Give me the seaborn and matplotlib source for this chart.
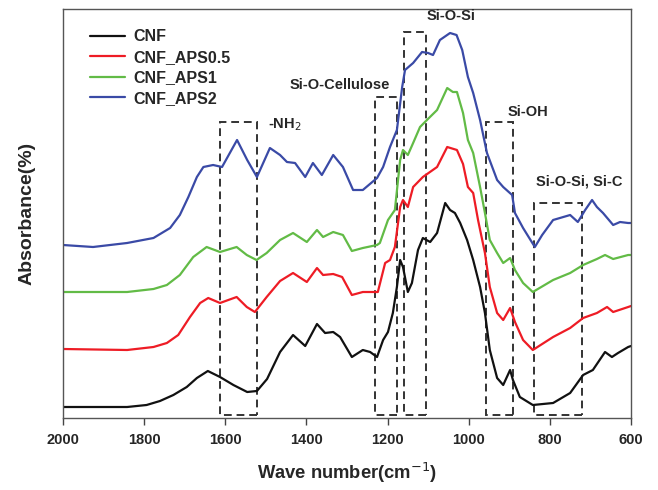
import numpy as np
import pandas as pd
import matplotlib
matplotlib.use("Agg")
import matplotlib.pyplot as plt
import seaborn as sns
from matplotlib.patches import Rectangle

# FTIR spectra (absorbance in arbitrary units, stacked)
cnf_wn = [2000, 1925, 1842, 1794, 1761, 1728, 1695, 1670, 1643, 1613, 1580, 1546, 1522,
          1497, 1465, 1433, 1403, 1374, 1354, 1334, 1317, 1288, 1261, 1243, 1226, 1211,
          1199, 1187, 1177, 1169, 1162, 1150, 1140, 1125, 1113, 1095, 1078, 1058, 1046,
          1034, 1021, 1004, 989, 972, 960, 948, 930, 915, 898, 891, 874, 842, 792, 750,
          718, 694, 664, 647, 632, 607, 600]
cnf_ab = [11, 11, 11, 13, 17, 23, 31, 40, 47, 41, 33, 26, 27,
          39, 66, 83, 72, 94, 85, 86, 81, 61, 68, 66, 61, 78,
          86, 105, 131, 158, 151, 126, 135, 168, 180, 176, 185, 215, 208,
          205, 195, 178, 158, 131, 105, 68, 40, 33, 48, 38, 21, 13, 15, 25,
          43, 48, 66, 61, 65, 71, 72]

aps05_wn = [2000, 1842, 1777, 1744, 1716, 1687, 1662, 1642, 1613, 1572, 1547, 1527, 1498,
            1465, 1433, 1399, 1374, 1359, 1334, 1312, 1288, 1261, 1224, 1206, 1194, 1182,
            1169, 1162, 1150, 1137, 1113, 1078, 1053, 1029, 1014, 1002, 989, 977, 960, 948,
            930, 915, 898, 886, 866, 842, 792, 750, 718, 684, 659, 644, 607, 600]
aps05_ab = [69, 68, 71, 75, 83, 101, 115, 120, 115, 121, 111, 106, 121,
            137, 145, 136, 150, 143, 144, 141, 123, 126, 126, 155, 158, 171,
            211, 218, 211, 231, 241, 251, 271, 268, 254, 231, 225, 198, 165, 131,
            105, 98, 110, 96, 78, 68, 81, 90, 100, 105, 111, 106, 111, 112]

aps1_wn = [2000, 1842, 1777, 1744, 1712, 1679, 1646, 1613, 1572, 1547, 1523, 1498, 1465,
           1433, 1399, 1374, 1359, 1334, 1310, 1288, 1261, 1226, 1219, 1199, 1182, 1169,
           1162, 1150, 1137, 1120, 1103, 1078, 1053, 1039, 1029, 1014, 1002, 989, 972, 960,
           948, 930, 915, 898, 886, 866, 842, 792, 750, 718, 684, 664, 644, 607, 600]
aps1_ab = [126, 126, 129, 133, 143, 161, 171, 166, 171, 163, 158, 165, 178,
           185, 176, 188, 181, 186, 183, 167, 170, 173, 175, 198, 208, 258,
           268, 263, 275, 291, 298, 308, 330, 326, 326, 305, 278, 265, 231, 205,
           178, 165, 155, 160, 148, 135, 126, 138, 145, 153, 159, 163, 159, 163, 163]

aps2_wn = [2000, 1926, 1842, 1777, 1736, 1712, 1691, 1670, 1654, 1630, 1608, 1571, 1546,
           1522, 1490, 1465, 1448, 1428, 1403, 1384, 1362, 1334, 1310, 1285, 1261, 1226,
           1211, 1194, 1177, 1164, 1157, 1137, 1115, 1100, 1088, 1071, 1046, 1030, 1016,
           1002, 989, 972, 955, 930, 915, 893, 886, 866, 837, 819, 792, 750, 731, 713, 696,
           684, 669, 644, 627, 607, 600]
aps2_ab = [173, 171, 175, 180, 190, 203, 221, 241, 251, 253, 251, 278, 258,
           241, 270, 263, 256, 255, 241, 255, 243, 263, 251, 228, 228, 240,
           251, 271, 288, 331, 348, 355, 366, 365, 363, 378, 385, 383, 368,
           341, 325, 298, 265, 238, 231, 223, 205, 190, 171, 183, 198, 203, 196, 208, 218,
           211, 205, 193, 196, 195, 195]

samples = ["CNF", "CNF_APS0.5", "CNF_APS1", "CNF_APS2"]
colors = ["#111111", "#ee1c25", "#62bb46", "#3a4aa6"]

# band regions marked with dashed boxes: (wn_high, wn_low, top)
boxes = [(1613, 1522, 296), (1231, 1177, 321), (1160, 1105, 386),
         (957, 891, 296), (839, 721, 215)]
# band labels: (text, wn, height, alignment)
labels = [("-NH$_2$", 1495, 293, "left"),
          ("Si-O-Cellulose", 1317, 333, "center"),
          ("Si-O-Si", 1044, 402, "center"),
          ("Si-OH", 854, 306, "center"),
          ("Si-O-Si, Si-C", 727, 237, "center")]

frames = []
for name, wn, ab in zip(samples, [cnf_wn, aps05_wn, aps1_wn, aps2_wn],
                        [cnf_ab, aps05_ab, aps1_ab, aps2_ab]):
    frames.append(pd.DataFrame({"wn": wn, "ab": ab, "sample": name}))
df = pd.concat(frames, ignore_index=True)

sns.set_style("white")
plt.rcParams["font.family"] = ["Liberation Sans", "DejaVu Sans"]

fig = plt.figure(figsize=(6.58, 4.9), dpi=100)
ax = fig.add_axes([63 / 658, 72 / 490, 568 / 658, 409 / 490])

sns.lineplot(data=df, x="wn", y="ab", hue="sample", hue_order=samples,
             palette=colors, sort=False, estimator=None, linewidth=1.6, ax=ax)

for hi, lo, top in boxes:
    ax.add_patch(Rectangle((lo, 3), hi - lo, top - 3, fill=False,
                           edgecolor="#333333", linestyle=(0, (4, 2.5)), linewidth=1.4))

for text, x, y, ha in labels:
    ax.text(x, y, text, fontsize=10.5, fontweight="bold", va="center", ha=ha)

ax.set_xlim(2000, 600)
ax.set_ylim(0, 409)
ax.set_xticks(np.arange(2000, 599, -200))
ax.set_yticks([])
ax.tick_params(axis="x", direction="out", length=5, width=1, labelsize=10.5, pad=6,
               bottom=True, color="#444444")
for t in ax.get_xticklabels():
    t.set_fontweight("bold")
for s in ax.spines.values():
    s.set_color("#555555")
    s.set_linewidth(1.0)

ax.set_xlabel("Wave number(cm$^{-1}$)", fontsize=13.2, fontweight="bold", labelpad=10)
ax.set_ylabel("Absorbance(%)", fontsize=14, fontweight="bold", labelpad=20)

leg = ax.legend(loc="upper left", bbox_to_anchor=(0.048, 0.95), frameon=False,
                fontsize=11.5, handlelength=2.2, handletextpad=0.5, labelspacing=0.34,
                borderpad=0, borderaxespad=0)
for t in leg.get_texts():
    t.set_fontweight("bold")

fig.savefig("out.png", dpi=100)
